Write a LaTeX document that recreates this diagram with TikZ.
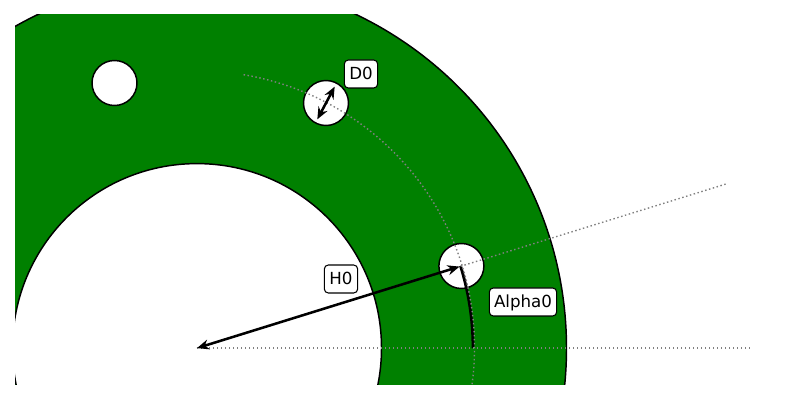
\documentclass[tikz,border=0pt]{standalone}
\usepackage{fontspec}
\setmainfont{DejaVu Sans}
\usetikzlibrary{arrows.meta,calc}
\definecolor{ringgreen}{HTML}{008000}
\tikzset{
  x=0.75pt,y=0.75pt,
  outline/.style={draw=black,line width=1.1pt},
  hole/.style={circle,outline,fill=white,minimum size=33.75pt,inner sep=0pt,outer sep=0pt},
  guide/.style={draw=gray,line width=1.04pt,dash pattern=on 1.1pt off 1.9pt},
  dim/.style={draw=black,line width=1.9pt,{Stealth[length=9pt,width=7.5pt]}-{Stealth[length=9pt,width=7.5pt]}},
  sweep/.style={draw=black,line width=2.1pt},
  tag/.style={draw=black,line width=0.8pt,fill=white,rounded corners=3pt,font=\fontsize{12.5}{15}\selectfont,inner sep=0pt,minimum height=21pt,text height=8.5pt,text depth=0pt}
}
\begin{document}
\begin{tikzpicture}
\useasboundingbox (0,0) rectangle (800,400);
\coordinate (c) at (197,51.9);
\coordinate (guideA) at (726,216);
\coordinate (guideB) at (752,51.9);
\begin{scope}
  \clip (15,15) rectangle (785,385);
  \path[outline,fill=ringgreen,even odd rule] (c) circle[radius=369.5] (c) circle[radius=184.5];
  \node[hole] (h1) at (461.4,134) {};
  \node[hole] (h2) at (326,297) {};
  \node[hole] (h3) at (114.5,317) {};
  \draw[sweep] (473,51.9) arc[start angle=0,end angle=17.3,radius=276.5];
  \draw[guide] (c) -- (guideB);
  \draw[guide] (c) -- (guideA);
  \draw[guide] (470.9,7.9) arc[start angle=-9.3,end angle=80.8,radius=276.5];
\end{scope}
\draw[dim,shorten >=1.5pt] (c) -- (h1.center);
\draw[dim,shorten <=3pt,shorten >=3pt] (h2.242.3) -- (h2.62.3);
\node[tag,minimum width=25pt] (d0) at (361,326) {D0};
\node[tag,minimum width=25pt] (h0) at (341,121) {H0};
\node[tag,minimum width=50.5pt] (a0) at (523,98) {Alpha0};
\end{tikzpicture}
\end{document}
